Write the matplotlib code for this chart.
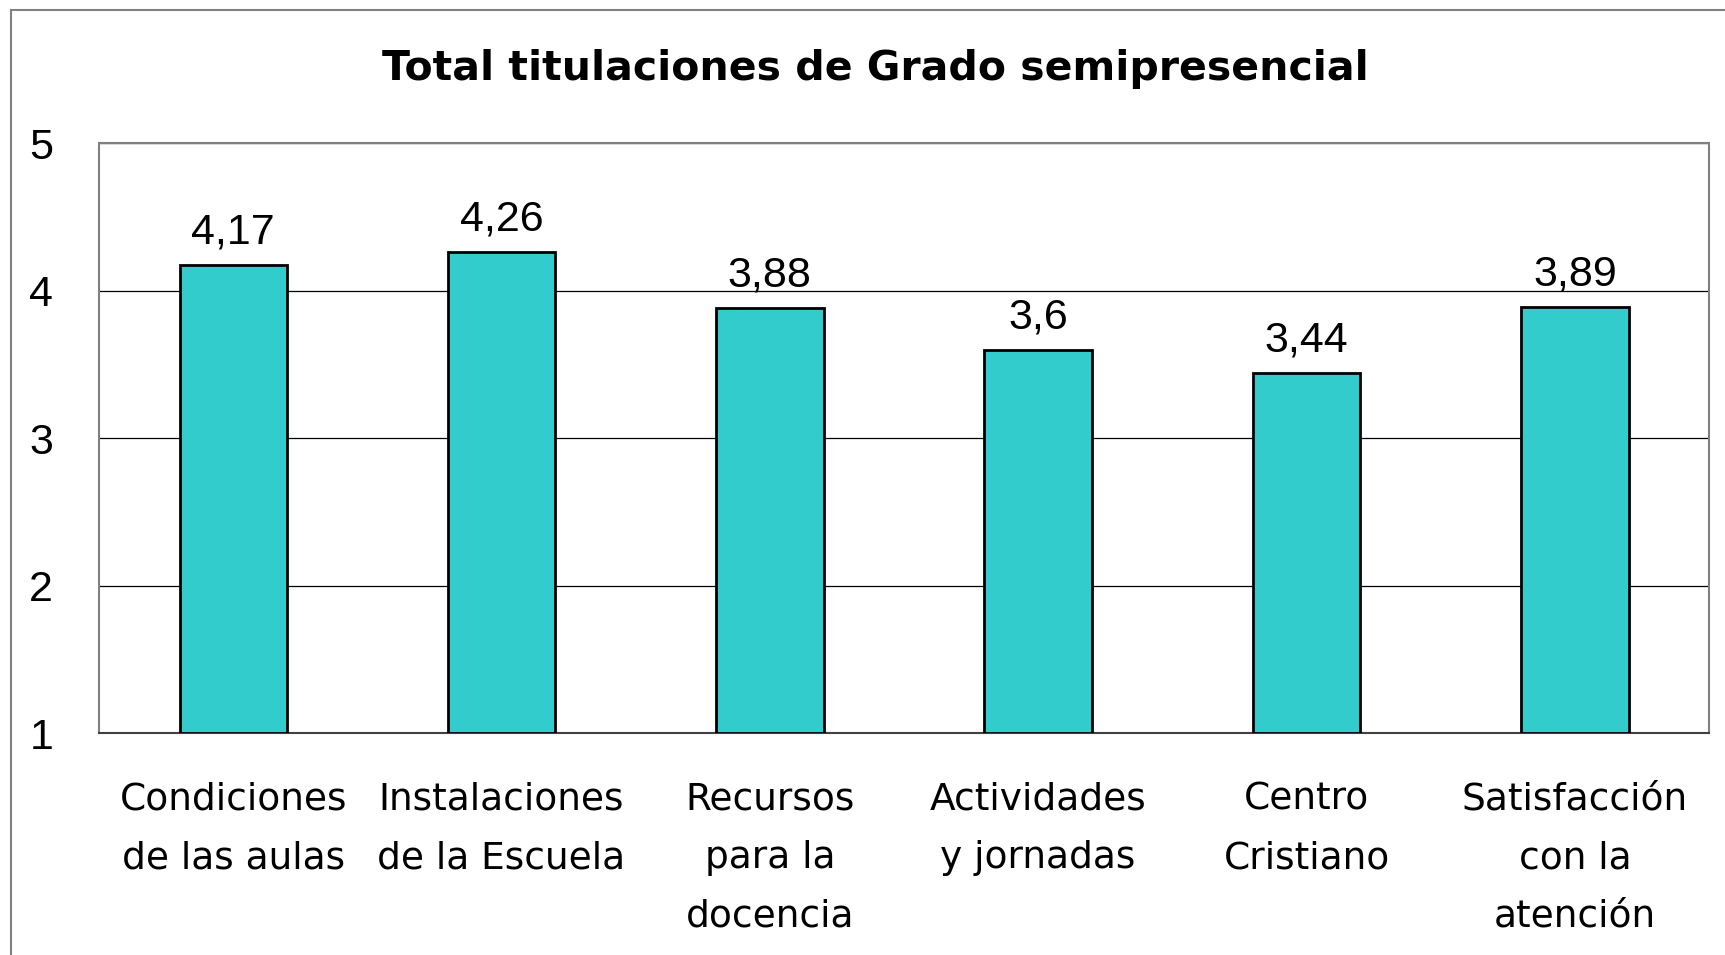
import matplotlib
matplotlib.use("Agg")
import matplotlib.pyplot as plt
from matplotlib.patches import Rectangle

categories = ["Condiciones\nde las aulas", "Instalaciones\nde la Escuela",
              "Recursos\npara la\ndocencia", "Actividades\ny jornadas",
              "Centro\nCristiano", "Satisfacción\ncon la\natención"]
values = [4.17, 4.26, 3.88, 3.6, 3.44, 3.89]
yticks = [1, 2, 3, 4, 5]

fig = plt.figure(figsize=(17.25, 9.55), dpi=100)
fig.patch.set_facecolor("white")

# outer frame (runs off right/bottom edges like the original)
fig.patches.append(Rectangle((11 / 1725, -0.2), 2.0, 1.2 - 10 / 955,
                             transform=fig.transFigure, fill=False,
                             edgecolor="#808080", linewidth=1.5))

ax = fig.add_axes([99 / 1725, 1 - 733 / 955, (1709 - 99) / 1725, (733 - 143) / 955])
x = range(len(categories))
ax.bar(x, [v - 1 for v in values], bottom=1, width=0.4, color="#33CCCC",
       edgecolor="black", linewidth=2, zorder=3)

for xi, v in zip(x, values):
    ax.annotate(str(v).replace(".", ","), (xi, v), xytext=(0, 9),
                textcoords="offset points", ha="center", va="bottom",
                fontsize=31, family="Liberation Sans")

ax.set_xlim(-0.5, len(categories) - 0.5)
ax.set_ylim(1, 5)
ax.set_yticks(yticks)
ax.set_yticklabels([str(t) for t in yticks], fontsize=31, family="Liberation Sans")
ax.yaxis.grid(True, color="black", linewidth=0.9, zorder=0)
ax.set_xticks(list(x))
ax.set_xticklabels(categories, fontsize=27, family="DejaVu Sans", linespacing=1.8,
                   va="top")
ax.tick_params(axis="both", length=0)
ax.tick_params(axis="y", pad=33)
ax.tick_params(axis="x", pad=35)
for s in ax.spines.values():
    s.set_color("#808080")
    s.set_linewidth(1.5)
ax.spines["bottom"].set_color("#404040")

fig.text(875 / 1725, 1 - 69 / 955, "Total titulaciones de Grado semipresencial",
         ha="center", va="center", fontsize=29.5, fontweight="bold", family="DejaVu Sans")

fig.savefig("out.png", dpi=100)
